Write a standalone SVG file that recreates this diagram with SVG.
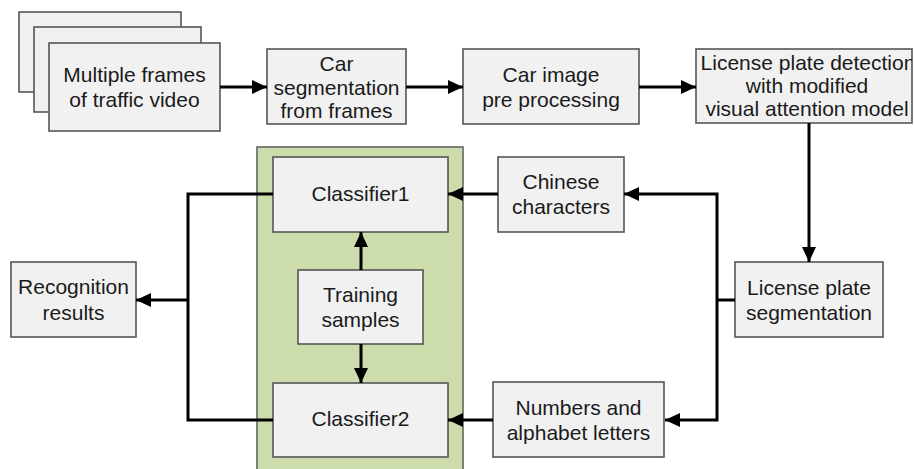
<svg xmlns="http://www.w3.org/2000/svg" width="914" height="469" viewBox="0 0 914 469">
  <defs>
    <marker id="arrow" markerUnits="userSpaceOnUse" markerWidth="16" markerHeight="14" refX="15" refY="7" orient="auto">
      <path d="M0,0 L15,7 L0,14 Z" fill="#000"/>
    </marker>
    <clipPath id="clipDetect">
      <rect x="696" y="49" width="216" height="74"/>
    </clipPath>
  </defs>
  <style>
    .box { fill: #f1f1f1; stroke: #555; stroke-width: 1.6; }
    .panel { fill: #cddcab; stroke: #666; stroke-width: 1.6; }
    .lbl { font-family: "Liberation Sans", Arial, sans-serif; font-size: 21px; fill: #1a1a1a; text-anchor: middle; dominant-baseline: central; }
    .wire { fill: none; stroke: #000; stroke-width: 3; }
    .arr { fill: none; stroke: #000; stroke-width: 3; marker-end: url(#arrow); }
  </style>

  <rect width="914" height="469" fill="#fff"/>

  <!-- classifier panel -->
  <g id="classifier-panel">
    <rect class="panel" x="257" y="147" width="206" height="330"/>
  </g>

  <!-- stacked video frames -->
  <g id="frames">
    <rect class="box" x="19" y="12" width="162" height="80"/>
    <rect class="box" x="34" y="27" width="167" height="85"/>
    <rect class="box" x="49" y="43" width="171" height="88"/>
    <text class="lbl" x="134.5" y="74">Multiple frames</text>
    <text class="lbl" x="134.5" y="99">of traffic video</text>
  </g>

  <g id="car-segmentation">
    <rect class="box" x="267" y="49" width="139" height="75"/>
    <text class="lbl" x="336.5" y="63">Car</text>
    <text class="lbl" x="336.5" y="87">segmentation</text>
    <text class="lbl" x="336.5" y="110">from frames</text>
  </g>

  <g id="car-preprocessing">
    <rect class="box" x="463" y="49" width="176" height="75"/>
    <text class="lbl" x="551" y="74">Car image</text>
    <text class="lbl" x="551" y="99">pre processing</text>
  </g>

  <g id="plate-detection">
    <rect class="box" x="696" y="49" width="216" height="74"/>
    <g clip-path="url(#clipDetect)">
      <text class="lbl" x="808" y="62">License plate detection</text>
    </g>
    <text class="lbl" x="807" y="85">with modified</text>
    <text class="lbl" x="807" y="108">visual attention model</text>
  </g>

  <g id="plate-segmentation">
    <rect class="box" x="735" y="262" width="148" height="75"/>
    <text class="lbl" x="809" y="287">License plate</text>
    <text class="lbl" x="809" y="312">segmentation</text>
  </g>

  <g id="chinese-characters">
    <rect class="box" x="498" y="157" width="126" height="75"/>
    <text class="lbl" x="561" y="181">Chinese</text>
    <text class="lbl" x="561" y="206">characters</text>
  </g>

  <g id="numbers-letters">
    <rect class="box" x="493" y="382" width="171" height="75"/>
    <text class="lbl" x="578.5" y="407">Numbers and</text>
    <text class="lbl" x="578.5" y="432">alphabet letters</text>
  </g>

  <g id="classifier1">
    <rect class="box" x="273" y="157" width="175" height="75"/>
    <text class="lbl" x="360.5" y="193">Classifier1</text>
  </g>

  <g id="training-samples">
    <rect class="box" x="298" y="270" width="125" height="74"/>
    <text class="lbl" x="360.5" y="294">Training</text>
    <text class="lbl" x="360.5" y="319">samples</text>
  </g>

  <g id="classifier2">
    <rect class="box" x="273" y="383" width="175" height="74"/>
    <text class="lbl" x="360.5" y="418">Classifier2</text>
  </g>

  <g id="recognition-results">
    <rect class="box" x="11" y="262" width="125" height="75"/>
    <text class="lbl" x="73.5" y="286">Recognition</text>
    <text class="lbl" x="73.5" y="312">results</text>
  </g>

  <!-- connectors -->
  <g id="connectors">
    <line class="arr" x1="220" y1="87" x2="267" y2="87"/>
    <line class="arr" x1="406" y1="87" x2="463" y2="87"/>
    <line class="arr" x1="639" y1="87" x2="696" y2="87"/>
    <line class="arr" x1="809" y1="123" x2="809" y2="262"/>
    <polyline class="wire" points="735,300 717,300"/>
    <polyline class="arr" points="717,300 717,194 624,194"/>
    <polyline class="arr" points="717,300 717,420 665,420"/>
    <line class="arr" x1="498" y1="194" x2="448" y2="194"/>
    <line class="arr" x1="493" y1="420" x2="448" y2="420"/>
    <line class="arr" x1="361" y1="270" x2="361" y2="232"/>
    <line class="arr" x1="361" y1="344" x2="361" y2="383"/>
    <polyline class="wire" points="273,194 188,194 188,420 273,420"/>
    <line class="arr" x1="188" y1="300" x2="136" y2="300"/>
  </g>
</svg>
